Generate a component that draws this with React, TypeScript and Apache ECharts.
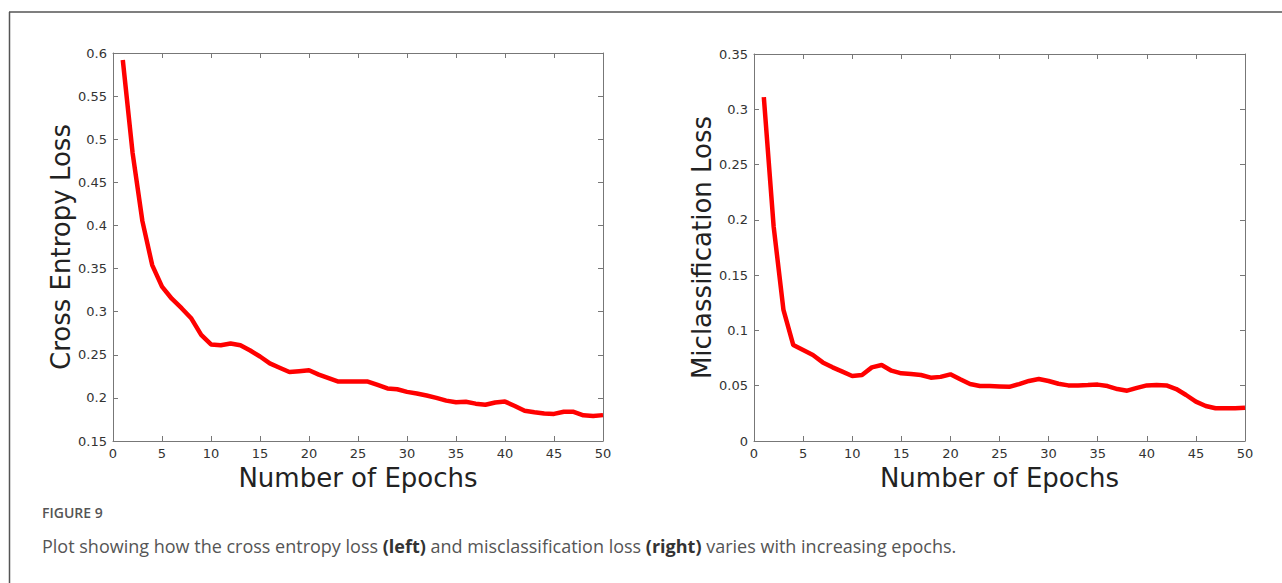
import React, { useEffect, useRef } from "react";
import * as echarts from "echarts";

const epochs = [
  1, 2, 3, 4, 5, 6, 7, 8, 9, 10, 11, 12, 13, 14, 15, 16, 17, 18, 19, 20, 21, 22, 23, 24, 25,
  26, 27, 28, 29, 30, 31, 32, 33, 34, 35, 36, 37, 38, 39, 40, 41, 42, 43, 44, 45, 46, 47, 48, 49, 50,
];

const crossEntropyLoss = [
  0.592, 0.484, 0.405, 0.354, 0.329, 0.315, 0.304, 0.292, 0.273, 0.262,
  0.261, 0.263, 0.261, 0.255, 0.248, 0.24, 0.235, 0.23, 0.231, 0.232,
  0.227, 0.223, 0.219, 0.219, 0.219, 0.219, 0.215, 0.211, 0.21, 0.207,
  0.205, 0.2027, 0.2, 0.1968, 0.195, 0.1955, 0.1933, 0.192, 0.1947, 0.1957,
  0.1906, 0.185, 0.1833, 0.1818, 0.1814, 0.184, 0.1838, 0.1798, 0.179, 0.18,
];

const misclassificationLoss = [
  0.311, 0.194, 0.1185, 0.0868, 0.0823, 0.0778, 0.0711, 0.0666, 0.0627, 0.0588,
  0.0597, 0.0666, 0.0687, 0.0636, 0.0612, 0.0606, 0.0597, 0.0573, 0.058, 0.0603,
  0.0558, 0.0515, 0.0497, 0.0497, 0.0494, 0.049, 0.0515, 0.0543, 0.0561, 0.0543,
  0.0518, 0.0503, 0.0503, 0.0506, 0.051, 0.0497, 0.047, 0.0455, 0.048, 0.0503,
  0.0506, 0.0503, 0.047, 0.0416, 0.0356, 0.0317, 0.0296, 0.0296, 0.0296, 0.03,
];

const xTicks = { min: 0, max: 50, interval: 5 };
const leftYTicks = { min: 0.15, max: 0.6, interval: 0.05 };
const rightYTicks = { min: 0, max: 0.35, interval: 0.05 };

const xTitle = "Number of Epochs";
const leftYTitle = "Cross Entropy Loss";
const rightYTitle = "Miclassification Loss";
const figureLabel = "FIGURE 9";
const captionText =
  "Plot showing how the cross entropy loss {b|(left)} and misclassification loss {b|(right)} varies with increasing epochs.";

const AXIS_FONT = "DejaVu Sans";
const AXIS_GRAY = "#777";
const TICK_LEN = 5;

const fmt = (v: number) => String(parseFloat(v.toFixed(3)));

// Axis that draws the frame line (and labels / title when asked)
function frameAxis(dim: "x" | "y", grid: number, position: string, ticks: any, extra: any = {}) {
  return {
    type: "value",
    gridIndex: grid,
    position,
    ...ticks,
    axisLine: { show: true, onZero: false, lineStyle: { color: AXIS_GRAY, width: 1 } },
    axisTick: { show: false },
    axisLabel: { show: false },
    splitLine: { show: false },
    ...extra,
  };
}

// Axis shifted inward by the tick length so its outward ticks sit inside the frame
function tickAxis(grid: number, position: string, ticks: any) {
  return {
    type: "value",
    gridIndex: grid,
    position,
    offset: -TICK_LEN,
    ...ticks,
    axisLine: { show: false, onZero: false },
    axisTick: { show: true, length: TICK_LEN, lineStyle: { color: AXIS_GRAY, width: 1 } },
    axisLabel: { show: false },
    splitLine: { show: false },
  };
}

const labelStyle = { show: true, fontFamily: AXIS_FONT, fontSize: 13, color: "#333", margin: 6, formatter: fmt };

function gridXAxes(grid: number) {
  return [
    frameAxis("x", grid, "bottom", xTicks, {
      name: xTitle,
      nameLocation: "middle",
      nameGap: 22,
      nameTextStyle: { fontFamily: AXIS_FONT, fontSize: 26, color: "#222", verticalAlign: "top" },
      axisLabel: labelStyle,
    }),
    frameAxis("x", grid, "top", xTicks),
    tickAxis(grid, "bottom", xTicks),
    tickAxis(grid, "top", xTicks),
  ];
}

function gridYAxes(grid: number, ticks: any, title: string, gap: number) {
  return [
    frameAxis("y", grid, "left", ticks, {
      name: title,
      nameLocation: "middle",
      nameGap: gap,
      nameRotate: 90,
      nameTextStyle: { fontFamily: AXIS_FONT, fontSize: 26, color: "#222" },
      axisLabel: labelStyle,
    }),
    frameAxis("y", grid, "right", ticks),
    tickAxis(grid, "left", ticks),
    tickAxis(grid, "right", ticks),
  ];
}

export default function App() {
  const ref = useRef<HTMLDivElement>(null);

  useEffect(() => {
    if (!ref.current) return;
    const chart = echarts.init(ref.current, undefined, { renderer: "svg" });
    const leftData = epochs.map((e, i) => [e, crossEntropyLoss[i]]);
    const rightData = epochs.map((e, i) => [e, misclassificationLoss[i]]);

    chart.setOption({
      animation: false,
      backgroundColor: "#fff",
      grid: [
        { left: 113, top: 53, width: 490, height: 388 },
        { left: 754, top: 54, width: 491, height: 387 },
      ],
      xAxis: [...gridXAxes(0), ...gridXAxes(1)],
      yAxis: [
        ...gridYAxes(0, leftYTicks, leftYTitle, 37),
        ...gridYAxes(1, rightYTicks, rightYTitle, 39),
      ],
      series: [
        {
          type: "line",
          xAxisIndex: 0,
          yAxisIndex: 0,
          data: leftData,
          showSymbol: false,
          lineStyle: { color: "#ff0000", width: 4.5 },
          itemStyle: { color: "#ff0000" },
        },
        {
          type: "line",
          xAxisIndex: 4,
          yAxisIndex: 4,
          data: rightData,
          showSymbol: false,
          lineStyle: { color: "#ff0000", width: 4.5 },
          itemStyle: { color: "#ff0000" },
        },
      ],
      graphic: [
        { type: "line", shape: { x1: 9, y1: 12, x2: 1282, y2: 12 }, style: { stroke: "#555", lineWidth: 1.5 } },
        { type: "line", shape: { x1: 9.5, y1: 12, x2: 9.5, y2: 583 }, style: { stroke: "#555", lineWidth: 1.5 } },
        {
          type: "text",
          left: 42,
          top: 505,
          style: {
            text: figureLabel,
            fontFamily: "Open Sans",
            fontSize: 14,
            fontWeight: 600,
            fill: "#555",
          },
        },
        {
          type: "text",
          left: 42,
          top: 537,
          style: {
            text: captionText,
            fontFamily: "Open Sans",
            fontSize: 18,
            fill: "#555",
            rich: {
              b: { fontFamily: "Open Sans", fontSize: 18, fontWeight: "bold", fill: "#333" },
            },
          },
        },
      ],
    });
    return () => chart.dispose();
  }, []);

  return (
    <div
      ref={ref}
      style={{ position: "fixed", left: 0, top: 0, width: 1282, height: 583, background: "#fff" }}
    />
  );
}
